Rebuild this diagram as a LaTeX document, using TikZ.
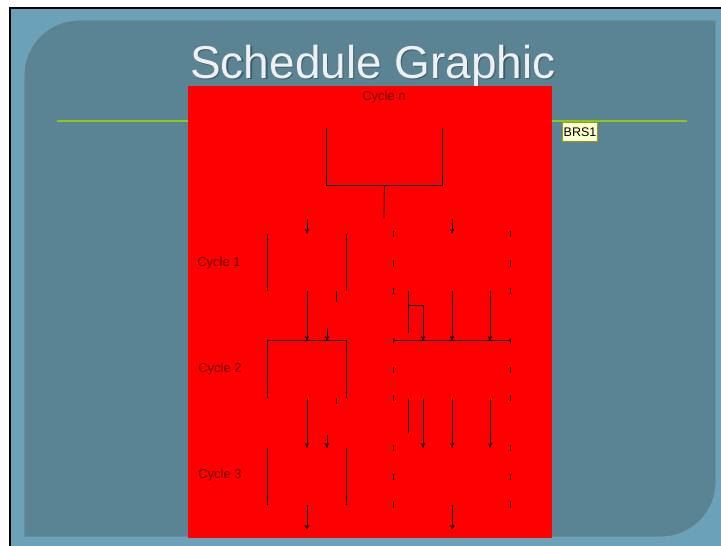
\documentclass[tikz,border=0pt]{standalone}
\usepackage{fontspec}
\setmainfont{Liberation Sans}
\usetikzlibrary{arrows.meta}
\definecolor{outerblue}{RGB}{108,161,186}
\definecolor{panelblue}{RGB}{90,132,148}
\definecolor{panelrim}{RGB}{122,164,180}
\definecolor{rulegreen}{RGB}{140,200,20}
\definecolor{notefill}{RGB}{255,255,204}
\definecolor{noteedge}{RGB}{150,150,50}
\definecolor{shadowc}{RGB}{60,92,104}
\begin{document}
\begin{tikzpicture}[x=1pt,y=-1pt,
  blk/.style={draw=none,inner sep=0pt,minimum width=78pt,minimum height=57pt},
  wideblk/.style={draw=none,inner sep=0pt,minimum width=116pt,minimum height=57pt},
  ln/.style={line width=0.8pt,draw=black},
  arr/.style={ln,-{Stealth[length=5pt,width=4.5pt]}},
  lbl/.style={font=\fontsize{13}{15}\selectfont,text=black!60!red,inner sep=0pt},
  tick/.style={line width=0.8pt,draw=black}]
\useasboundingbox (0,0) rectangle (721,546);
% page frame
\fill[white] (0,0) rectangle (721,546);
\fill[black] (9,7) rectangle (721,546);
\fill[outerblue] (11,9) rectangle (721,546);
% panel
\filldraw[fill=panelblue,draw=panelrim,line width=0.8pt]
  (24,537) -- (24,75) arc[start angle=180,end angle=270,radius=55]
  -- (716,20) -- (716,482) arc[start angle=0,end angle=90,radius=55] -- cycle;
% title
\node[text=shadowc,font=\fontsize{46}{50}\selectfont,inner sep=0pt,anchor=base] (titleshadow) at (374.2,79.2) {Schedule Graphic};
\node[text=white!94!black,font=\fontsize{46}{50}\selectfont,inner sep=0pt,anchor=base] (title) at (373,78) {Schedule Graphic};
% rule
\coordinate (ruleL) at (57,121);
\coordinate (ruleR) at (687,121);
\draw[rulegreen,line width=1.2pt] (ruleL) -- (ruleR);
% note
\node[fill=notefill,draw=noteedge,line width=1pt,inner sep=0pt,minimum width=35pt,minimum height=19pt,font=\fontsize{12.5}{14}\selectfont] (note) at (580,132) {BRS1};
% red image
\fill[red] (188,86) rectangle (552,538);
% labels
\node[lbl] (cyn) at (384,97) {Cycle n};
\node[lbl] (cy1) at (219,263) {Cycle 1};
\node[lbl] (cy2) at (220,369) {Cycle 2};
\node[lbl] (cy3) at (220,475) {Cycle 3};
% boxes
\node[draw=none,inner sep=0pt,minimum width=115pt,minimum height=57pt] (top) at (384.5,156.5) {};
\node[blk] (c1l) at (307,262.5) {};
\node[wideblk] (c1r) at (452,262.5) {};
\node[blk] (c2l) at (307,369.5) {};
\node[wideblk] (c2r) at (452,369.5) {};
\node[blk] (c3l) at (307,476.5) {};
\node[wideblk] (c3r) at (452,476.5) {};
% top box
\draw[ln] (top.north west) -- (top.south west) -- (top.south east) -- (top.north east);
\coordinate (split) at (384,218);
\draw[ln] (top.south) -- (split);
\coordinate (a1) at (307,219);
\coordinate (a2) at (452,219);
\draw[arr] (a1) -- (c1l.north);
\draw[arr] (a2) -- (c1r.north);
% left box sides
\foreach \b in {c1l,c3l}{
  \draw[ln] (\b.north west) -- (\b.south west);
  \draw[ln] (\b.north east) -- (\b.south east);
}
\draw[ln] (c2l.south west) -- (c2l.north west) -- (c2l.north east) -- (c2l.south east);
% right box ticks
\foreach \b in {c1r,c2r,c3r}{
  \foreach \a in {north west,west,south west,north east,east,south east}{
    \draw[tick] ([yshift=-3pt]\b.\a) -- ([yshift=3pt]\b.\a);
  }
}
\draw[ln] (c2r.north west) -- (c2r.north east);
% row 1 -> row 2
\draw[arr] (c1l.south) -- (c2l.north);
\coordinate (s1a) at (336,291); \coordinate (s1b) at (336,302);
\draw[ln] (s1a) -- (s1b);
\coordinate (q1a) at (327,328); \coordinate (q1b) at (327,341);
\draw[arr] (q1a) -- (q1b);
\coordinate (r1a) at (408,291); \coordinate (r1b) at (408,333);
\draw[ln] (r1a) -- (r1b);
\coordinate (r1c) at (408,305); \coordinate (r1d) at (423,305); \coordinate (r1e) at (423,341);
\draw[ln] (r1c) -- (r1d);
\draw[arr] (r1d) -- (r1e);
\draw[arr] (c1r.south) -- (c2r.north);
\coordinate (t1a) at (490,291); \coordinate (t1b) at (490,341);
\draw[arr] (t1a) -- (t1b);
% row 2 -> row 3
\draw[arr] (c2l.south) -- (c3l.north);
\coordinate (s2a) at (336,398); \coordinate (s2b) at (336,404);
\draw[ln] (s2a) -- (s2b);
\coordinate (q2a) at (327,435); \coordinate (q2b) at (327,448);
\draw[arr] (q2a) -- (q2b);
\coordinate (r2a) at (408,398); \coordinate (r2b) at (408,434);
\draw[ln] (r2a) -- (r2b);
\coordinate (r2d) at (423,398); \coordinate (r2e) at (423,448);
\draw[arr] (r2d) -- (r2e);
\draw[arr] (c2r.south) -- (c3r.north);
\coordinate (t2a) at (490,398); \coordinate (t2b) at (490,448);
\draw[arr] (t2a) -- (t2b);
% exits
\coordinate (e1) at (307,530); \coordinate (e2) at (452,530);
\draw[arr] (c3l.south) -- (e1);
\draw[arr] (c3r.south) -- (e2);
\end{tikzpicture}
\end{document}
